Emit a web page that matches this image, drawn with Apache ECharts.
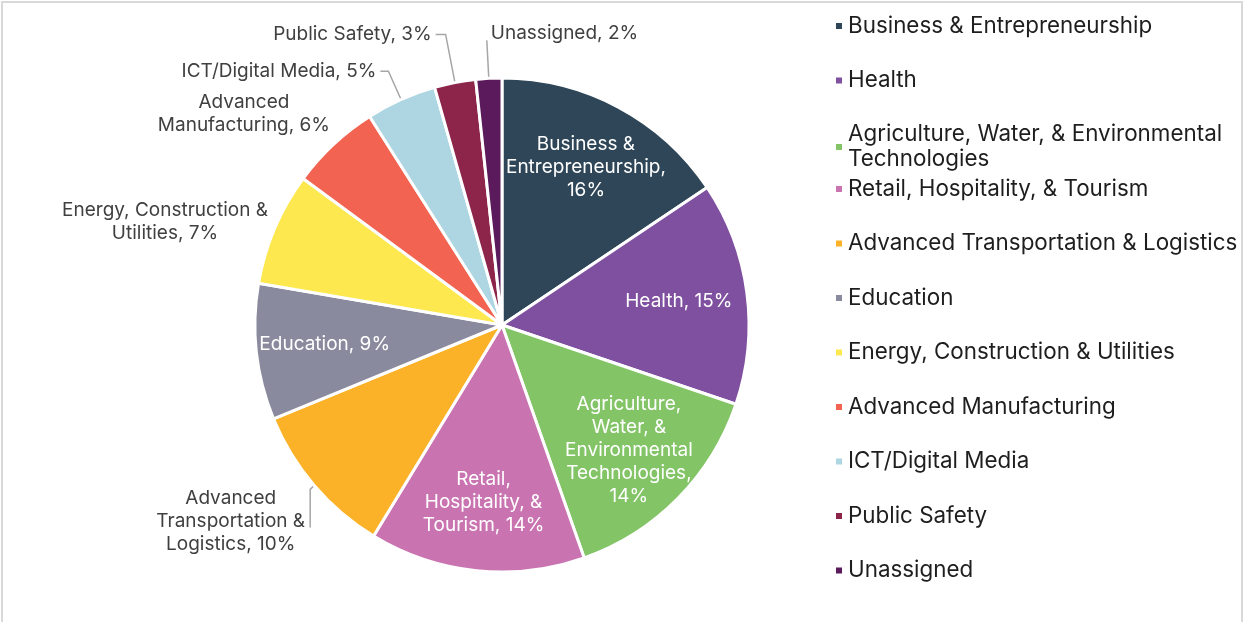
<!DOCTYPE html>
<html>
<head>
<meta charset="utf-8">
<script src="https://cdn.jsdelivr.net/npm/echarts@6/dist/echarts.min.js"></script>
<style>
html,body{margin:0;padding:0;background:#fff;}
#chart{position:absolute;left:0;top:0;width:1250px;height:622px;}
#frame{position:absolute;left:1px;top:1px;width:1238px;height:640px;border:2px solid #d9d9d9;border-bottom:none;pointer-events:none;}
</style>
</head>
<body>
<div id="chart"></div>
<div id="frame"></div>
<script>
// ---- data ----
const categories = [
  'Business & Entrepreneurship',
  'Health',
  'Agriculture, Water, & Environmental Technologies',
  'Retail, Hospitality, & Tourism',
  'Advanced Transportation & Logistics',
  'Education',
  'Energy, Construction & Utilities',
  'Advanced Manufacturing',
  'ICT/Digital Media',
  'Public Safety',
  'Unassigned'
];
const values = [15.6, 14.6, 14.4, 14.1, 10.1, 8.9, 7.4, 5.9, 4.6, 2.7, 1.7];
const labelNames = [
  'Business &\nEntrepreneurship,\n',
  'Health, ',
  'Agriculture,\nWater, &\nEnvironmental\nTechnologies,\n',
  'Retail,\nHospitality, &\nTourism, ',
  'Advanced\nTransportation &\nLogistics, ',
  'Education, ',
  'Energy, Construction &\nUtilities, ',
  'Advanced\nManufacturing, ',
  'ICT/Digital Media, ',
  'Public Safety, ',
  'Unassigned, '
];
const insideLabels = [true, true, true, true, false, true, false, false, false, false, false];
const legendNames = [
  'Business & Entrepreneurship',
  'Health',
  'Agriculture, Water, & Environmental\nTechnologies',
  'Retail, Hospitality, & Tourism',
  'Advanced Transportation & Logistics',
  'Education',
  'Energy, Construction & Utilities',
  'Advanced Manufacturing',
  'ICT/Digital Media',
  'Public Safety',
  'Unassigned'
];
const colors = ['#2e4657', '#7f4fa0', '#82c466', '#c973b0', '#fbb228', '#8a8a9e',
                '#fde84f', '#f26351', '#add6e2', '#8c2549', '#5b1a5b'];

// ---- styling / layout config ----
const FONT = 'Inter';
const CENTER = [502, 325];
const R = 247;
const outsideCfg = {
  'Advanced Transportation & Logistics': {length: 8, length2: 0, line: true,
    nudge: {dx: 1, dy: 31, align: 'right', elbow: true}},
  'Energy, Construction & Utilities': {length: 3, length2: 0, line: false,
    nudge: {dx: 0, dy: -5, align: 'right'}},
  'Advanced Manufacturing': {length: 30, length2: 0, line: false,
    nudge: {dx: 21, dy: -9, align: 'right'}},
  'ICT/Digital Media': {length: 31, length2: 8, line: true},
  'Public Safety': {length: 49, length2: 10, line: true},
  'Unassigned': {length: 38, length2: 0, line: true,
    nudge: {dx: 8, dy: -7, align: 'left'}}
};

function pctText(i, p) { return labelNames[i] + Math.round(p) + '%'; }

const mainData = categories.map(function (name, i) {
  const cfg = outsideCfg[name] || {length: 10, length2: 5, line: false};
  return {
    name: name,
    value: values[i],
    itemStyle: {color: colors[i]},
    label: {show: !insideLabels[i]},
    labelLine: {show: !insideLabels[i] && cfg.line, length: cfg.length, length2: cfg.length2}
  };
});
const overlayData = categories.map(function (name, i) {
  return {
    name: name,
    value: values[i],
    itemStyle: {color: 'rgba(0,0,0,0)'},
    label: {show: insideLabels[i]}
  };
});

const legendBase = {
  orient: 'vertical',
  left: 834,
  padding: 0,
  itemWidth: 8,
  itemHeight: 8,
  itemGap: 29.5,
  icon: 'rect',
  selectedMode: false,
  textStyle: {fontFamily: FONT, fontSize: 22.4, lineHeight: 25, color: '#1e1e1e'},
  formatter: function (name) { return legendNames[categories.indexOf(name)]; }
};

const chart = echarts.init(document.getElementById('chart'), null, {renderer: 'canvas'});
chart.setOption({
  backgroundColor: '#fff',
  animation: false,
  legend: [
    Object.assign({}, legendBase, {top: 13.5, data: categories.slice(0, 2)}),
    Object.assign({}, legendBase, {top: 109.5, data: [{
      name: categories[2],
      textStyle: {padding: [25, 0, 0, 0]}
    }]}),
    Object.assign({}, legendBase, {top: 176.5, data: categories.slice(3)})
  ],
  series: [
    {
      type: 'pie',
      center: CENTER,
      radius: R,
      startAngle: 90,
      clockwise: true,
      avoidLabelOverlap: false,
      silent: true,
      itemStyle: {borderColor: '#fff', borderWidth: 3},
      label: {
        position: 'outside',
        distanceToLabelLine: 4,
        formatter: function (p) {
          return pctText(p.dataIndex, p.percent).split('\n').map(function (l) {
            return '{c|' + l + '}';
          }).join('\n');
        },
        rich: {c: {align: 'center', fontFamily: FONT, fontSize: 19, lineHeight: 23, color: '#404040'}}
      },
      labelLine: {lineStyle: {color: '#a6a6a6', width: 1.5}},
      labelLayout: function (p) {
        const cfg = outsideCfg[categories[p.dataIndex]];
        if (!cfg || !cfg.nudge || !p.labelRect) return;
        const n = cfg.nudge;
        const r = p.labelRect;
        const anchorX = r.x + r.width;           // default right-aligned anchor
        const anchorY = r.y + r.height / 2;
        const res = {x: anchorX + n.dx, y: anchorY + n.dy, align: n.align, verticalAlign: 'middle'};
        const pts = p.labelLinePoints;
        if (cfg.line && pts) {
          if (n.elbow) {
            const s = pts[0];
            res.labelLinePoints = [s, [s[0] - 4, s[1] + 4], [s[0] - 4, s[1] + 42]];
          } else {
            res.labelLinePoints = pts;
          }
        }
        return res;
      },
      data: mainData
    },
    {
      type: 'pie',
      center: CENTER,
      radius: R * 1.42,
      startAngle: 90,
      clockwise: true,
      silent: true,
      avoidLabelOverlap: false,
      label: {
        position: 'inside',
        fontFamily: FONT,
        fontSize: 19,
        lineHeight: 23,
        color: '#ffffff',
        formatter: function (p) { return pctText(p.dataIndex, p.percent); }
      },
      labelLine: {show: false},
      data: overlayData
    }
  ]
});
</script>
</body>
</html>
